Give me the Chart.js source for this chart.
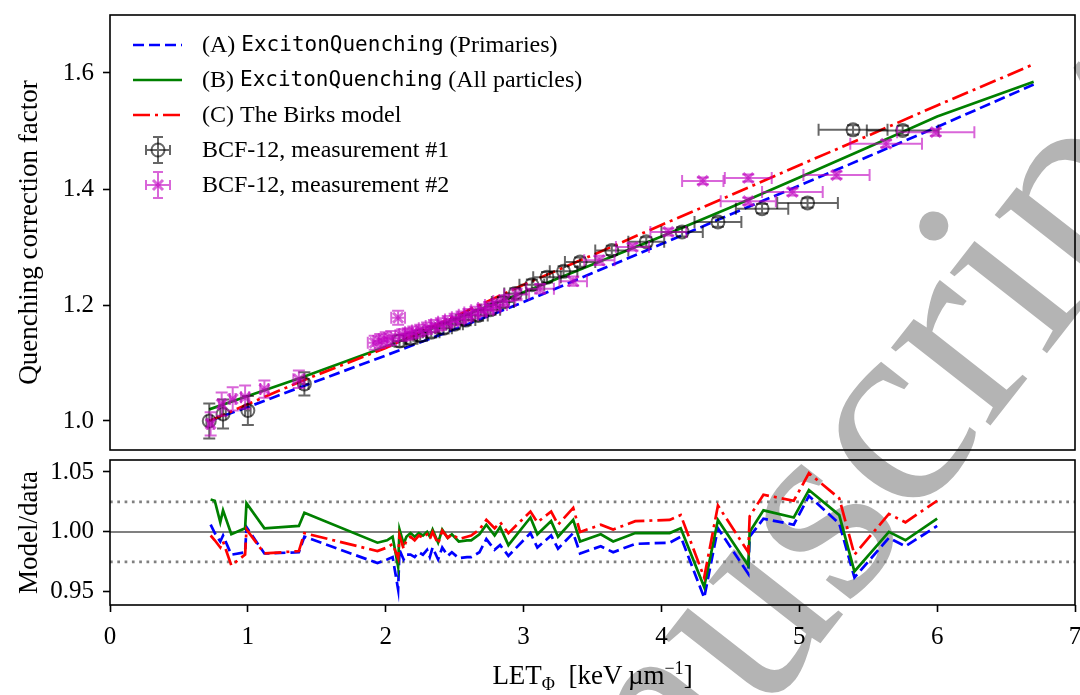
<!DOCTYPE html>
<html>
<head>
<meta charset="utf-8">
<script src="https://cdn.jsdelivr.net/npm/chart.js@4.4.0/dist/chart.umd.min.js"></script>
<style>
  body { margin: 0; background: #fff; }
  #wrap { position: relative; width: 1080px; height: 695px; overflow: hidden; }
  canvas { position: absolute; left: 0; }
  #xlabel {
    position: absolute; left: 110px; width: 965px; top: 662px;
    text-align: center; font-family: "Liberation Serif", serif; font-size: 27px; line-height: 1;
  }
  #xlabel sub, #xlabel sup { font-size: 18px; line-height: 0; }
</style>
</head>
<body>
<div id="wrap">
  <canvas id="mark" width="1080" height="695" style="top:0"></canvas>
  <canvas id="topChart" width="1080" height="455" style="top:0"></canvas>
  <canvas id="bottomChart" width="1080" height="240" style="top:455px"></canvas>
  <div id="xlabel">LET<sub>Φ</sub>&nbsp;&nbsp;[keV&thinsp;µm<sup>−1</sup>]</div>
</div>
<script>
const SERIF = "'Liberation Serif', 'Times New Roman', serif";
const MONO = "'DejaVu Sans Mono', monospace";

// axes
const xTicks = [0, 1, 2, 3, 4, 5, 6, 7];
const topYTicks = [1.0, 1.2, 1.4, 1.6];
const bottomYTicks = [0.95, 1.00, 1.05];

// model curves (top panel)
const modelX = [0.72, 1.0, 1.4, 2.0, 2.5, 3.0, 3.5, 4.0, 4.5, 5.0, 5.5, 6.0, 6.7];
const modelA = [1.000, 1.024, 1.060, 1.113, 1.158, 1.205, 1.255, 1.305, 1.356, 1.406, 1.456, 1.507, 1.580];
const modelB = [1.020, 1.043, 1.076, 1.128, 1.175, 1.222, 1.270, 1.318, 1.368, 1.420, 1.472, 1.525, 1.585];
const modelC = [1.000, 1.029, 1.070, 1.126, 1.180, 1.235, 1.286, 1.338, 1.389, 1.441, 1.492, 1.544, 1.615];

// BCF-12, measurement #1
const meas1X = [0.72, 0.82, 1.00, 1.41, 2.10, 2.18, 2.25, 2.33, 2.42, 2.50, 2.58, 2.67, 2.76, 2.85,
                2.94, 3.06, 3.17, 3.29, 3.41, 3.64, 3.89, 4.15, 4.41, 4.73, 5.06, 5.39, 5.75];
const meas1Y = [1.000, 1.012, 1.018, 1.064, 1.138, 1.142, 1.147, 1.153, 1.160, 1.167, 1.174, 1.182, 1.192, 1.205,
                1.220, 1.235, 1.248, 1.258, 1.274, 1.294, 1.309, 1.326, 1.343, 1.366, 1.376, 1.502, 1.501];
const meas1XErr = [0.02, 0.02, 0.02, 0.03, 0.05, 0.05, 0.05, 0.06, 0.06, 0.06, 0.07, 0.07, 0.07, 0.08,
                   0.08, 0.09, 0.10, 0.10, 0.11, 0.12, 0.13, 0.15, 0.17, 0.19, 0.22, 0.25, 0.26];
const meas1YErr = [0.030, 0.025, 0.025, 0.020, 0.010, 0.009, 0.009, 0.009, 0.009, 0.009, 0.009, 0.009, 0.009, 0.009,
                   0.009, 0.009, 0.009, 0.009, 0.008, 0.008, 0.008, 0.008, 0.008, 0.008, 0.008, 0.008, 0.008];

// BCF-12, measurement #2
const meas2X = [0.73, 0.81, 0.89, 0.98, 1.12, 1.37, 1.92, 1.96, 2.00, 2.04, 2.09, 2.12, 2.16, 2.20,
                2.25, 2.30, 2.35, 2.40, 2.45, 2.50, 2.55, 2.60, 2.65, 2.70, 2.75, 2.80, 2.86, 2.95,
                3.12, 3.36, 3.55, 3.79, 4.05, 4.30, 4.63, 4.63, 4.95, 5.27, 5.63, 5.99];
const meas2Y = [0.995, 1.029, 1.038, 1.041, 1.055, 1.072, 1.135, 1.138, 1.141, 1.143, 1.178, 1.148, 1.150, 1.153,
                1.156, 1.160, 1.164, 1.167, 1.171, 1.175, 1.179, 1.183, 1.187, 1.191, 1.195, 1.200, 1.207, 1.218,
                1.228, 1.241, 1.277, 1.300, 1.326, 1.414, 1.419, 1.379, 1.395, 1.424, 1.478, 1.498];
const meas2XErr = [0.02, 0.02, 0.02, 0.03, 0.03, 0.04, 0.05, 0.05, 0.05, 0.05, 0.05, 0.05, 0.06, 0.06,
                   0.06, 0.06, 0.06, 0.07, 0.07, 0.07, 0.07, 0.07, 0.08, 0.08, 0.08, 0.08, 0.08, 0.09,
                   0.10, 0.10, 0.11, 0.12, 0.13, 0.15, 0.17, 0.20, 0.22, 0.24, 0.26, 0.28];
const meas2YErr = [0.020, 0.020, 0.020, 0.020, 0.015, 0.015, 0.012, 0.012, 0.012, 0.012, 0.012, 0.010, 0.010, 0.010,
                   0.010, 0.010, 0.010, 0.010, 0.010, 0.010, 0.010, 0.010, 0.010, 0.010, 0.010, 0.010, 0.010, 0.010,
                   0.008, 0.008, 0.008, 0.006, 0.006, 0.006, 0.006, 0.006, 0.006, 0.006, 0.006, 0.006];

// model / data (bottom panel)
const ratioX = [0.73, 0.76, 0.80, 0.82, 0.88, 0.98, 0.99, 1.12, 1.37, 1.41, 1.94, 2.01, 2.05, 2.09, 2.10,
                2.13, 2.15, 2.18, 2.21, 2.24, 2.27, 2.30, 2.32, 2.34, 2.38, 2.41, 2.45, 2.48, 2.53, 2.59,
                2.62, 2.68, 2.73, 2.79, 2.83, 2.89, 3.05, 3.10, 3.20, 3.25, 3.36, 3.41, 3.56, 3.65, 3.81,
                4.06, 4.14, 4.31, 4.41, 4.63, 4.64, 4.74, 4.96, 5.07, 5.29, 5.40, 5.65, 5.77, 6.00];
const ratioA = [1.006, 0.999, 0.992, 0.997, 0.981, 0.983, 1.004, 0.982, 0.983, 0.996, 0.974, 0.977, 0.979, 0.952, 0.985,
                0.977, 0.981, 0.981, 0.979, 0.983, 0.981, 0.985, 0.979, 0.987, 0.977, 0.987, 0.980, 0.983, 0.978, 0.979,
                0.979, 0.983, 0.994, 0.985, 0.989, 0.980, 0.999, 0.987, 0.997, 0.986, 0.999, 0.982, 0.988, 0.983, 0.990,
                0.991, 0.996, 0.945, 1.003, 0.965, 0.996, 1.011, 1.006, 1.030, 1.007, 0.962, 0.995, 0.988, 1.005];
const ratioB = [1.027, 1.026, 1.008, 1.018, 0.998, 1.003, 1.024, 1.003, 1.005, 1.016, 0.991, 0.993, 0.996, 0.971, 1.002,
                0.990, 0.996, 0.999, 0.996, 0.999, 0.997, 1.000, 0.996, 1.002, 0.991, 1.002, 0.995, 0.998, 0.992, 0.993,
                0.993, 0.998, 1.006, 0.997, 1.004, 0.989, 1.012, 0.998, 1.009, 0.996, 1.010, 0.992, 0.998, 0.992, 0.999,
                0.999, 1.003, 0.954, 1.010, 0.972, 1.000, 1.018, 1.012, 1.035, 1.014, 0.967, 1.000, 0.993, 1.011];
const ratioC = [0.997, 0.993, 0.987, 0.992, 0.972, 0.981, 1.002, 0.982, 0.984, 0.999, 0.984, 0.987, 0.990, 0.978, 0.997,
                0.986, 0.993, 0.996, 0.993, 0.997, 0.995, 0.998, 0.994, 1.000, 0.990, 1.001, 0.995, 0.998, 0.994, 0.996,
                0.997, 1.002, 1.010, 1.003, 1.008, 0.999, 1.017, 1.008, 1.017, 1.006, 1.020, 1.000, 1.006, 1.002, 1.009,
                1.010, 1.014, 0.962, 1.022, 0.983, 1.013, 1.031, 1.026, 1.049, 1.028, 0.981, 1.015, 1.008, 1.026];
const refLine = 1.0;
const bandLines = [0.975, 1.025];

const legendLabels = [
  [["(A) ", SERIF], ["ExcitonQuenching", MONO], [" (Primaries)", SERIF]],
  [["(B) ", SERIF], ["ExcitonQuenching", MONO], [" (All particles)", SERIF]],
  [["(C) The Birks model", SERIF]],
  [["BCF-12, measurement #1", SERIF]],
  [["BCF-12, measurement #2", SERIF]]
];

const BLUE = '#0000ff', GREEN = '#008000', RED = '#ff0000', GREY = '#808080';
const BLACK_A = 'rgba(0,0,0,0.6)', MAG_A = 'rgba(191,0,191,0.6)';
const DASH_A = [11, 5], DASH_C = [17, 5, 3, 5], DOTS = [2.7, 4.6];

function pts(xs, ys) {
  return xs.map((x, i) => ({ x: x, y: ys[i] }));
}

// watermark behind both panels
(function () {
  const ctx = document.getElementById('mark').getContext('2d');
  ctx.save();
  ctx.translate(451, 1116);
  ctx.rotate(-52 * Math.PI / 180);
  ctx.fillStyle = '#b4b4b4';
  ctx.font = '275px ' + SERIF;
  ctx.textBaseline = 'alphabetic';
  ctx.fillText('Manuscript', 0, 0);
  ctx.restore();
})();

function drawMarker(ctx, style, x, y, color) {
  ctx.save();
  ctx.strokeStyle = color;
  ctx.setLineDash([]);
  if (style === 'circle') {
    ctx.lineWidth = 2;
    ctx.beginPath();
    ctx.arc(x, y, 6.5, 0, Math.PI * 2);
    ctx.stroke();
  } else {
    ctx.lineWidth = 3;
    ctx.beginPath();
    ctx.moveTo(x - 5, y - 5); ctx.lineTo(x + 5, y + 5);
    ctx.moveTo(x - 5, y + 5); ctx.lineTo(x + 5, y - 5);
    ctx.stroke();
  }
  ctx.restore();
}

function drawErr(ctx, x0, x1, y0, y1, cx, cy, cap) {
  ctx.beginPath();
  ctx.moveTo(x0, cy); ctx.lineTo(x1, cy);
  ctx.moveTo(x0, cy - cap); ctx.lineTo(x0, cy + cap);
  ctx.moveTo(x1, cy - cap); ctx.lineTo(x1, cy + cap);
  ctx.moveTo(cx, y0); ctx.lineTo(cx, y1);
  ctx.moveTo(cx - cap, y0); ctx.lineTo(cx + cap, y0);
  ctx.moveTo(cx - cap, y1); ctx.lineTo(cx + cap, y1);
  ctx.stroke();
}

const errorBars = {
  id: 'errorBars',
  beforeDatasetDraw(chart, args) {
    const ds = chart.data.datasets[args.index];
    if (!ds.errX) return;
    const ctx = chart.ctx, xs = chart.scales.x, ys = chart.scales.y, a = chart.chartArea;
    ctx.save();
    ctx.beginPath();
    ctx.rect(a.left, a.top, a.right - a.left, a.bottom - a.top);
    ctx.clip();
    ctx.strokeStyle = ds.borderColor;
    ctx.lineWidth = 2;
    ds.data.forEach((p, i) => {
      const cx = xs.getPixelForValue(p.x), cy = ys.getPixelForValue(p.y);
      drawErr(ctx,
        xs.getPixelForValue(p.x - ds.errX[i]), xs.getPixelForValue(p.x + ds.errX[i]),
        ys.getPixelForValue(p.y + ds.errY[i]), ys.getPixelForValue(p.y - ds.errY[i]),
        cx, cy, 6);
    });
    ctx.restore();
  },
  afterDatasetDraw(chart, args) {
    const ds = chart.data.datasets[args.index];
    if (!ds.errX) return;
    const ctx = chart.ctx, xs = chart.scales.x, ys = chart.scales.y;
    ds.data.forEach(p => {
      drawMarker(ctx, ds.marker, xs.getPixelForValue(p.x), ys.getPixelForValue(p.y), ds.borderColor);
    });
  }
};

const frame = {
  id: 'frame',
  afterDraw(chart) {
    const a = chart.chartArea, ctx = chart.ctx;
    ctx.save();
    ctx.strokeStyle = '#000';
    ctx.lineWidth = 1.6;
    ctx.strokeRect(a.left, a.top, a.right - a.left, a.bottom - a.top);
    ctx.restore();
  }
};

const legendBox = {
  id: 'legendBox',
  afterDraw(chart) {
    const ctx = chart.ctx;
    const sets = [chart.data.datasets[2], chart.data.datasets[3], chart.data.datasets[4],
                  chart.data.datasets[0], chart.data.datasets[1]];
    ctx.save();
    sets.forEach((ds, r) => {
      const y = 45 + r * 35;
      if (ds.errX) {
        ctx.strokeStyle = ds.borderColor;
        ctx.lineWidth = 2;
        ctx.setLineDash([]);
        drawErr(ctx, 146, 170, y - 13, y + 13, 158, y, 5);
        drawMarker(ctx, ds.marker, 158, y, ds.borderColor);
      } else {
        ctx.strokeStyle = ds.borderColor;
        ctx.lineWidth = ds.borderWidth;
        ctx.setLineDash(ds.borderDash || []);
        ctx.beginPath();
        ctx.moveTo(133, y); ctx.lineTo(182, y);
        ctx.stroke();
      }
      ctx.setLineDash([]);
      ctx.fillStyle = '#000';
      ctx.textBaseline = 'middle';
      let x = 202;
      legendLabels[r].forEach(part => {
        ctx.font = (part[1] === MONO ? '21px ' : '24px ') + part[1];
        ctx.fillText(part[0], x, y + 1);
        x += ctx.measureText(part[0]).width;
      });
    });
    ctx.restore();
  }
};

function noPad(s) {
  s.paddingTop = 0; s.paddingBottom = 0; s.paddingLeft = 0; s.paddingRight = 0;
}

function yAxis(min, max, ticks, digits, title) {
  return {
    type: 'linear', min: min, max: max,
    afterFit(s) { s.width = 110; noPad(s); },
    afterBuildTicks(s) { s.ticks = ticks.map(v => ({ value: v })); },
    ticks: { font: { family: SERIF, size: 25 }, color: '#000', padding: 9,
             callback: v => Number(v).toFixed(digits) },
    grid: { drawOnChartArea: false, drawTicks: true, tickLength: 7, tickWidth: 1.6, tickColor: '#000' },
    border: { display: false },
    title: { display: true, text: title, color: '#000', font: { family: SERIF, size: 27 },
             padding: { top: 14, bottom: 0 } }
  };
}

new Chart(document.getElementById('topChart'), {
  type: 'scatter',
  data: {
    datasets: [
      { label: 'BCF-12, measurement #1', data: pts(meas1X, meas1Y), errX: meas1XErr, errY: meas1YErr,
        marker: 'circle', borderColor: BLACK_A, pointRadius: 0, showLine: false, order: 1 },
      { label: 'BCF-12, measurement #2', data: pts(meas2X, meas2Y), errX: meas2XErr, errY: meas2YErr,
        marker: 'x', borderColor: MAG_A, pointRadius: 0, showLine: false, order: 0 },
      { label: '(A)', data: pts(modelX, modelA), showLine: true, borderColor: BLUE, borderWidth: 2.7,
        borderDash: DASH_A, pointRadius: 0, order: 4 },
      { label: '(B)', data: pts(modelX, modelB), showLine: true, borderColor: GREEN, borderWidth: 2.7,
        pointRadius: 0, order: 3 },
      { label: '(C)', data: pts(modelX, modelC), showLine: true, borderColor: RED, borderWidth: 2.7,
        borderDash: DASH_C, pointRadius: 0, order: 2 }
    ]
  },
  options: {
    responsive: false, animation: false, devicePixelRatio: 1,
    layout: { padding: { top: 15, right: 5, bottom: 5, left: 0 } },
    plugins: { legend: { display: false }, tooltip: { enabled: false } },
    scales: {
      x: { type: 'linear', min: 0, max: 7, display: false },
      y: yAxis(0.95, 1.70, topYTicks, 1, 'Quenching correction factor')
    }
  },
  plugins: [errorBars, frame, legendBox]
});

new Chart(document.getElementById('bottomChart'), {
  type: 'scatter',
  data: {
    datasets: [
      { data: pts(ratioX, ratioC), showLine: true, borderColor: RED, borderWidth: 2.7,
        borderDash: DASH_C, pointRadius: 0, order: 0 },
      { data: pts(ratioX, ratioB), showLine: true, borderColor: GREEN, borderWidth: 2.7,
        pointRadius: 0, order: 1 },
      { data: pts(ratioX, ratioA), showLine: true, borderColor: BLUE, borderWidth: 2.7,
        borderDash: DASH_A, pointRadius: 0, order: 2 },
      { data: pts([xTicks[0], xTicks[xTicks.length - 1]], [refLine, refLine]), showLine: true,
        borderColor: GREY, borderWidth: 2, pointRadius: 0, order: 3 },
      { data: pts([xTicks[0], xTicks[xTicks.length - 1]], [bandLines[0], bandLines[0]]), showLine: true,
        borderColor: GREY, borderWidth: 2.7, borderDash: DOTS, pointRadius: 0, order: 3 },
      { data: pts([xTicks[0], xTicks[xTicks.length - 1]], [bandLines[1], bandLines[1]]), showLine: true,
        borderColor: GREY, borderWidth: 2.7, borderDash: DOTS, pointRadius: 0, order: 3 }
    ]
  },
  options: {
    responsive: false, animation: false, devicePixelRatio: 1,
    layout: { padding: { top: 5, right: 5, bottom: 0, left: 0 } },
    plugins: { legend: { display: false }, tooltip: { enabled: false } },
    scales: {
      x: {
        type: 'linear', min: 0, max: 7,
        afterFit(s) { s.height = 90; noPad(s); },
        afterBuildTicks(s) { s.ticks = xTicks.map(v => ({ value: v })); },
        ticks: { font: { family: SERIF, size: 25 }, color: '#000', padding: 10, maxRotation: 0 },
        grid: { drawOnChartArea: false, drawTicks: true, tickLength: 7, tickWidth: 1.6, tickColor: '#000' },
        border: { display: false }
      },
      y: yAxis(0.939, 1.06, bottomYTicks, 2, 'Model/data')
    }
  },
  plugins: [frame]
});
</script>
</body>
</html>
